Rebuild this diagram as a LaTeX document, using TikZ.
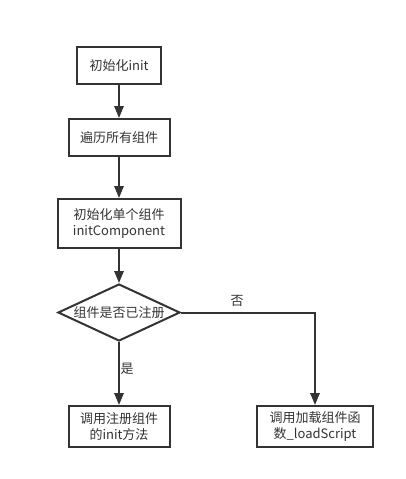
\documentclass[tikz,border=0pt]{standalone}
\usepackage{fontspec}
\setmainfont{Noto Sans CJK SC}
\usepackage{xcolor}
\usetikzlibrary{shapes.geometric}
\usetikzlibrary{arrows.meta}
\definecolor{inkgrey}{HTML}{333333}
\tikzset{box/.style={draw=inkgrey,line width=1.5pt,align=center,inner sep=0pt,
  font=\fontsize{9.75pt}{12.5pt}\selectfont,text=inkgrey},
 decision/.style={diamond,draw=inkgrey,line width=1.5pt,inner sep=0pt,aspect=2.14,
  minimum width=91.5pt,minimum height=42.75pt,font=\fontsize{9.75pt}{12.5pt}\selectfont,text=inkgrey},
 flow/.style={draw=inkgrey,line width=1.5pt,-{Triangle[length=9pt,width=7pt]}},
 tag/.style={font=\fontsize{9.75pt}{12.5pt}\selectfont,text=inkgrey},
 }

\begin{document}
\begin{tikzpicture}[x=0.75pt,y=-0.75pt]
        \useasboundingbox (0,0) rectangle (405,479);
        \node [box, minimum width=63pt, minimum height=27.75pt] (init) at (119, 65.5) {初始化init};
        \node [box, minimum width=75.75pt, minimum height=27.75pt] (loop) at (119, 137.5) {遍历所有组件};
        \node [box, minimum width=92.25pt, minimum height=36.75pt] (comp) at (119, 223.5) {初始化单个组件\\initComponent};
        \node [decision] (check) at (119, 312.5) {组件是否已注册};
        \node [box, minimum width=75.75pt, minimum height=30.75pt] (callinit) at (119, 426.5) {调用注册组件\\的init方法};
        \node [box, minimum width=87pt, minimum height=30.75pt] (load) at (315, 426.5) {调用加载组件函\\数\_loadScript};
        \node [tag] (yes) at (127, 369) {是};
        \node [tag] (no) at (237, 301) {否};
        \draw [flow] (init) -- (loop);
        \draw [flow] (loop) -- (comp);
        \draw [flow] (comp) -- (check);
        \draw [flow] (check) -- (callinit);
        \draw [flow] (check.east) -| (load.north);
    \end{tikzpicture}
\end{document}
